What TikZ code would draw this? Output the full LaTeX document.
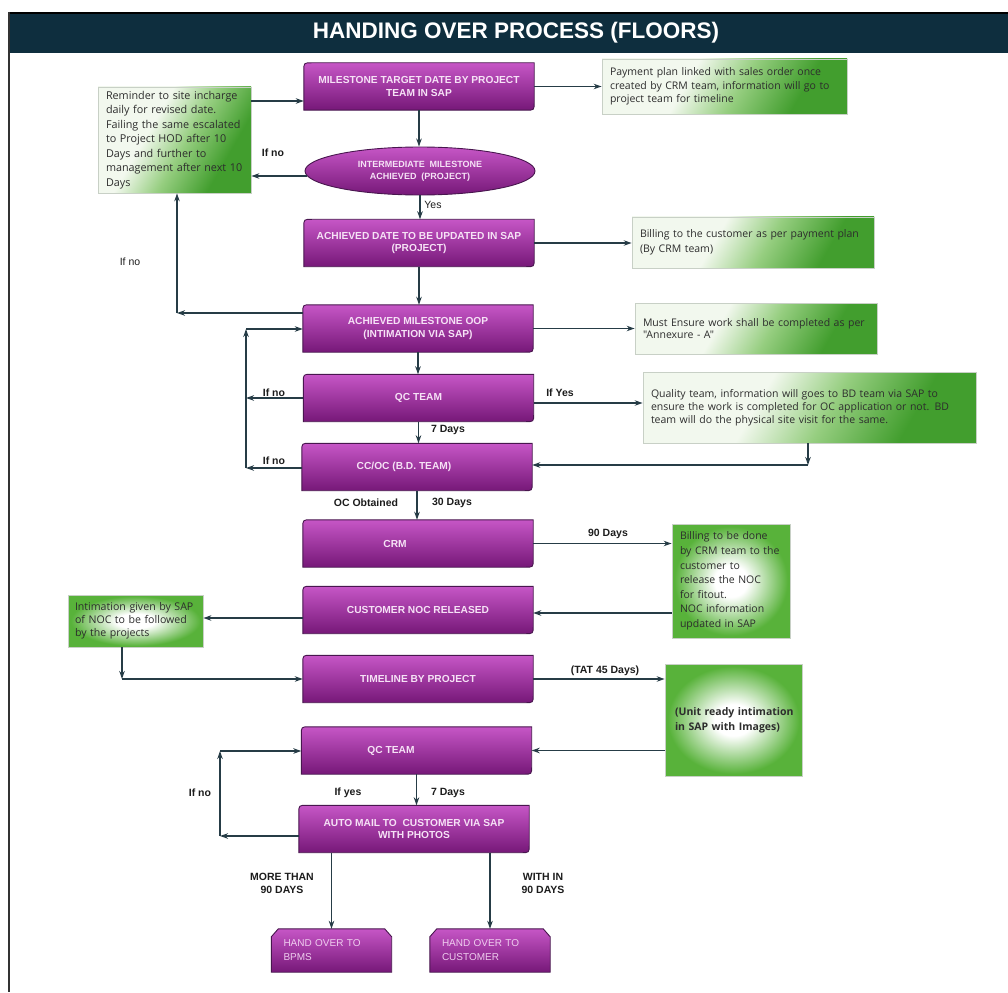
\documentclass[tikz,border=0pt]{standalone}
\usepackage{fontspec}
\setmainfont{Liberation Sans}
\newfontfamily\notefont{Open Sans}
\usetikzlibrary{arrows.meta,shapes.geometric,backgrounds}

% palette
\definecolor{hdr}{RGB}{14,46,62}
\definecolor{pTop}{RGB}{198,86,198}
\definecolor{pBot}{RGB}{118,24,120}
\definecolor{pEdge}{RGB}{72,22,78}
\definecolor{pText}{RGB}{246,226,246}
\definecolor{wire}{RGB}{38,60,70}
\definecolor{lblC}{RGB}{28,28,28}
\definecolor{noteC}{RGB}{45,45,45}
\definecolor{gD}{RGB}{66,158,46}
\definecolor{gM}{RGB}{150,206,128}
\definecolor{gL}{RGB}{242,248,238}
\definecolor{gR}{RGB}{88,178,58}
\definecolor{gEdge}{RGB}{200,208,198}

% green fills: a diagonal fade and a centre glow
\pgfdeclareverticalshading{gfade}{100bp}{color(0bp)=(gD); color(30bp)=(gD); color(46bp)=(gM); color(60bp)=(gL); color(100bp)=(gL)}
\pgfdeclareradialshading{gglow}{\pgfpoint{0bp}{0bp}}{color(0bp)=(white); color(7bp)=(white); color(24bp)=(gR); color(50bp)=(gR)}

% purple step: rounded top-left and bottom-right corners
\newcommand\stepshape[1]{%
  \shadedraw[top color=pTop, bottom color=pBot, draw=pEdge, line width=0.9pt]
    (#1.south west) -- ([yshift=-8pt]#1.north west) .. controls (#1.north west) .. ([xshift=8pt]#1.north west)
    -- (#1.north east) -- ([yshift=8pt]#1.south east) .. controls (#1.south east) .. ([xshift=-8pt]#1.south east)
    -- cycle;}
% purple end box: both top corners snipped
\newcommand\snipshape[1]{%
  \shadedraw[top color=pTop, bottom color=pBot, draw=pEdge, line width=0.9pt]
    (#1.south west) -- ([yshift=-8pt]#1.north west) -- ([xshift=7pt]#1.north west)
    -- ([xshift=-7pt]#1.north east) -- ([yshift=-8pt]#1.north east) -- (#1.south east) -- cycle;}

\tikzset{
  pbox/.style={rectangle, minimum width=230pt, minimum height=47pt, inner sep=0pt, align=center,
    text=pText, font=\bfseries\fontsize{10.2}{12.5}\selectfont},
  hbox/.style={rectangle, minimum width=120pt, minimum height=43pt, inner xsep=12pt, inner ysep=0pt,
    text width=96pt, align=left, text=pText!85!pTop, font=\fontsize{10}{14}\selectfont},
  note/.style={rectangle, draw=gEdge, line width=0.8pt, inner xsep=8pt, inner ysep=0pt, align=left,
    text=noteC, font=\notefont\fontsize{10.5}{13}\selectfont},
  fade/.style={shade, shading=gfade, shading angle=60},
  glow/.style={shade, shading=gglow},
  lbl/.style={text=lblC, inner sep=1pt, font=\bfseries\fontsize{10.5}{13}\selectfont},
  lblr/.style={text=lblC, inner sep=1pt, font=\fontsize{10.5}{13}\selectfont},
  arr/.style={draw=wire, line width=1.2pt, -{Stealth[length=8pt,width=5.5pt]}},
}

\begin{document}
\begin{tikzpicture}[x=1pt, y=-1pt]
\useasboundingbox (0,0) rectangle (1008,992);

% frame and title band
\fill[hdr] (9,13) rectangle (1008,53);
\draw[black, line width=1.4pt] (9,13) -- (1008,13);
\draw[black!80, line width=2.5pt] (9,12) -- (9,992);
\node[text=white, font=\bfseries\fontsize{22.5}{26}\selectfont] (title) at (516,33) {HANDING OVER PROCESS (FLOORS)};

% main process steps
\node[pbox] (m1) at (419,86.5) {MILESTONE TARGET DATE BY PROJECT\\TEAM IN SAP};
\node[ellipse, minimum width=230pt, minimum height=48pt, inner sep=0pt, top color=pTop, bottom color=pBot,
  draw=pEdge, line width=0.9pt, align=center, text=pText, font=\bfseries\fontsize{9}{12}\selectfont]
  (ms) at (420,171) {INTERMEDIATE\ \ MILESTONE\\ACHIEVED\ \ (PROJECT)};
\node[pbox] (m2) at (419,243) {ACHIEVED DATE TO BE UPDATED IN SAP\\(PROJECT)};
\node[pbox] (m3) at (418,328.5) {ACHIEVED MILESTONE OOP\\(INTIMATION VIA SAP)};
\node[pbox] (qc1) at (418.5,398) {QC TEAM};
\node[pbox] (cc) at (417,467) {CC/OC (B.D. TEAM)\rule{26pt}{0pt}};
\node[pbox] (crm) at (418,543.5) {CRM\rule{46pt}{0pt}};
\node[pbox] (noc) at (418,610) {CUSTOMER NOC RELEASED};
\node[pbox] (tl) at (418,679) {TIMELINE BY PROJECT};
\node[pbox] (qc2) at (416.5,750.5) {QC TEAM\rule{51pt}{0pt}};
\node[pbox] (am) at (414,829) {AUTO MAIL TO\ \ CUSTOMER VIA SAP\\WITH PHOTOS};
\node[hbox] (h1) at (331.5,950.5) {HAND OVER TO\\BPMS};
\node[hbox] (h2) at (490,950.5) {HAND OVER TO\\CUSTOMER};

\begin{pgfonlayer}{background}
  \foreach \n in {m1,m2,m3,qc1,cc,crm,noc,tl,qc2,am} {\stepshape{\n}}
  \snipshape{h1}
  \snipshape{h2}
\end{pgfonlayer}

% side notes
\node[note, fade, minimum width=153pt, minimum height=106pt, text width=147pt, inner xsep=3pt,
  font=\notefont\fontsize{10.8}{14.5}\selectfont] (rem) at (174.5,140)
  {\hspace*{5pt}Reminder to site incharge\\\hspace*{5pt}daily for revised date.\\\hspace*{5pt}Failing the same escalated\\\hspace*{5pt}to Project HOD after 10\\\hspace*{5pt}Days and further to\\\hspace*{5pt}management after next 10\\\hspace*{5pt}Days};
\node[note, fade, minimum width=245pt, minimum height=55pt, text width=229pt,
  font=\notefont\fontsize{10.5}{13.3}\selectfont] (pay) at (724.5,86.5)
  {Payment plan linked with sales order once\\created by CRM team, information will go to\\project team for timeline};
\node[note, fade, minimum width=242pt, minimum height=51pt, text width=226pt,
  font=\notefont\fontsize{10.5}{15}\selectfont] (bill) at (753,242.5)
  {Billing to the customer as per payment plan\\(By CRM team)};
\node[note, fade, minimum width=242pt, minimum height=51pt, text width=226pt,
  font=\notefont\fontsize{10.5}{12.5}\selectfont] (ann) at (756,328.5)
  {Must Ensure work shall be completed as per\\"Annexure - A"};
\node[note, fade, minimum width=333pt, minimum height=71pt, text width=317pt,
  font=\notefont\fontsize{10.5}{12.8}\selectfont] (qual) at (809.5,407.5)
  {Quality team, information will goes to BD team via SAP to\\ensure the work is completed for OC application or not. BD\\team will do the physical site visit for the same.};
\node[note, glow, minimum width=118pt, minimum height=114pt, text width=110pt, inner xsep=4pt,
  font=\notefont\fontsize{10.5}{14.6}\selectfont] (bnoc) at (731,581)
  {\hspace*{4pt}Billing to be done\\\hspace*{4pt}by CRM team to the\\\hspace*{4pt}customer to\\\hspace*{4pt}release the NOC\\\hspace*{4pt}for fitout.\\\hspace*{4pt}NOC information\\\hspace*{4pt}updated in SAP};
\node[note, glow, minimum width=135pt, minimum height=52pt, text width=131pt, inner xsep=2pt,
  font=\notefont\fontsize{10.6}{13}\selectfont] (intim) at (135.5,621)
  {\hspace*{5pt}Intimation given by SAP\\\hspace*{5pt}of NOC to be followed\\\hspace*{5pt}by the projects};
\node[note, glow, minimum width=137pt, minimum height=112pt, text width=131pt, inner xsep=3pt,
  font=\notefont\bfseries\fontsize{10.5}{15}\selectfont] (unit) at (733.5,720)
  {\hspace*{7pt}(Unit ready intimation\\\hspace*{7pt}in SAP with Images)};

% connectors down the main column
\draw[arr] (m1.south) -- (m1.south |- ms.north);
\draw[arr] (ms.south) -- (ms.south |- m2.north);
\draw[arr] (m2.south) -- (m2.south |- m3.north);
\draw[arr] (m3.south) -- (m3.south |- qc1.north);
\draw[arr] (qc1.south) -- (qc1.south |- cc.north);
\draw[arr] (cc.south) -- (cc.south |- crm.north);
\draw[arr] (qc2.south) -- (qc2.south |- am.north);
\draw[arr] (h1.north |- am.south) -- (h1.north);
\draw[arr] (h2.north |- am.south) -- (h2.north);

% connectors to and from the notes
\coordinate (a1) at ([yshift=-14.5pt]m1.west);
\draw[arr] (rem.east |- a1) -- (a1);
\coordinate (a2) at ([xshift=2.5pt,yshift=-5pt]ms.west);
\draw[arr] (a2) -- (rem.east |- a2);
\draw[arr] (m1.east) -- (pay.west |- m1.east);
\draw[arr] (m2.east) -- (bill.west |- m2.east);
\draw[arr] (m3.east) -- (ann.west |- m3.east);
\coordinate (a3) at ([yshift=-5pt]qc1.east);
\draw[arr] (a3) -- (qual.west |- a3);
\coordinate (c12) at (808,465);
\draw[arr] (qual.south -| c12) -- (c12);
\draw[arr] (c12) -- (cc.east |- c12);
\draw[arr] (crm.east) -- (bnoc.west |- crm.east);
\coordinate (a4) at ([yshift=-3pt]noc.east);
\draw[arr] (bnoc.west |- a4) -- (a4);
\coordinate (a5) at ([yshift=-8pt]noc.west);
\draw[arr] (a5) -- (intim.east |- a5);
\coordinate (c19) at (122,679);
\draw[arr] (intim.south -| c19) -- (c19);
\draw[arr] (c19) -- (tl.west |- c19);
\draw[arr] (tl.east) -- (unit.west |- tl.east);
\draw[arr] (unit.west |- qc2.east) -- (qc2.east);

% return loops
\coordinate (c3) at (177,313);
\draw[arr] (m3.west |- c3) -- (c3);
\draw[arr] (c3) -- (c3 |- rem.south);
\coordinate (L1) at (246,329);
\coordinate (L2) at (246,468);
\draw[arr] (qc1.west) -- (qc1.west -| L1);
\draw[arr] (cc.west |- L2) -- (L2);
\draw[arr] (L2) -- (L1);
\draw[arr] (L1) -- (m3.west |- L1);
\coordinate (L3) at (220,751);
\coordinate (L4) at (220,836);
\draw[arr] (am.west |- L4) -- (L4);
\draw[arr] (L4) -- (L3);
\draw[arr] (L3) -- (qc2.west |- L3);

% connector labels
\node[lbl] (t1) at (273,153) {If no};
\node[lblr] (t2) at (433,205) {Yes};
\node[lblr] (t3) at (130,262) {If no};
\node[lbl] (t4) at (274,393) {If no};
\node[lbl] (t5) at (560,393) {If Yes};
\node[lbl] (t6) at (448,430) {7 Days};
\node[lbl] (t7) at (274,461) {If no};
\node[lbl] (t8) at (366,503) {OC Obtained};
\node[lbl] (t9) at (452,503) {30 Days};
\node[lbl] (t10) at (608,534) {90 Days};
\node[lbl] (t11) at (605,671) {(TAT 45 Days)};
\node[lbl] (t12) at (200,793) {If no};
\node[lbl] (t13) at (348,793) {If yes};
\node[lbl] (t14) at (448,793) {7 Days};
\node[lbl, align=center] (t15) at (282,883) {MORE THAN\\90 DAYS};
\node[lbl, align=center] (t16) at (543,883) {WITH IN\\90 DAYS};
\end{tikzpicture}
\end{document}
